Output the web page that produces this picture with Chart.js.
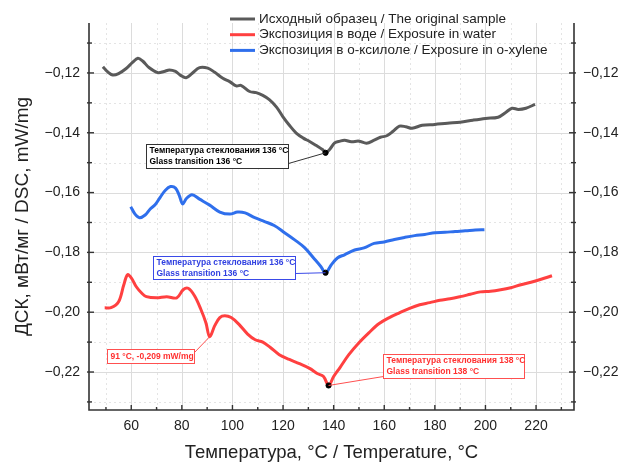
<!DOCTYPE html>
<html>
<head>
<meta charset="utf-8">
<script src="https://cdn.jsdelivr.net/npm/chart.js@4.4.0/dist/chart.umd.min.js"></script>
<style>
html, body { margin: 0; padding: 0; background: #fff; }
#wrap { width: 622px; height: 464px; position: relative; }
</style>
</head>
<body>
<div id="wrap"><canvas id="dsc"></canvas></div>
<script>
// DSC curves
const tempOriginal = [48.8, 50.5, 52.7, 55, 58, 60.5, 62.6, 64.5, 67, 70.5, 73, 75.1, 77.5, 79.5, 81.7, 84, 87, 90.3, 93, 96.2, 98.9, 101.5, 103.5, 106.8, 109.4, 112, 114.7, 117.5, 119.9, 122.5, 125.2, 128, 130.5, 133, 135.7, 136.8, 138.5, 140.4, 142.5, 144.3, 147, 150, 153, 156, 158.5, 161, 163.5, 166, 168.5, 171, 175, 180, 185, 190, 195, 200, 205, 208, 210.5, 213, 216, 219.6];
const dscOriginal = [-0.1179, -0.1195, -0.1207, -0.1202, -0.1185, -0.1165, -0.1151, -0.116, -0.1182, -0.1199, -0.1195, -0.119, -0.1195, -0.1208, -0.1216, -0.1202, -0.1182, -0.1184, -0.1198, -0.1218, -0.1229, -0.1243, -0.1242, -0.1262, -0.1266, -0.1275, -0.129, -0.1315, -0.1346, -0.1375, -0.1401, -0.1418, -0.1429, -0.1442, -0.1457, -0.1467, -0.1455, -0.1434, -0.1428, -0.1425, -0.143, -0.1428, -0.1435, -0.1425, -0.1415, -0.141, -0.1395, -0.1378, -0.138, -0.1385, -0.1375, -0.1372, -0.1368, -0.1365, -0.1358, -0.1352, -0.1348, -0.1332, -0.1318, -0.1322, -0.1318, -0.1305];

const tempWater = [49.5, 52, 55, 57, 58.5, 60, 62, 64, 66, 70, 74, 78, 80.5, 82.5, 85, 87.5, 89.5, 91, 93, 95, 97, 99.5, 102.5, 106, 109, 112, 115, 118.5, 122.5, 126.5, 130.5, 133.5, 136, 138, 140, 142.5, 146, 150, 154, 158, 162, 166, 170, 174, 178, 182, 186, 190, 194, 198, 202, 206, 210, 214, 218, 222, 226.3];
const dscWater = [-0.1985, -0.1985, -0.1965, -0.191, -0.1875, -0.1885, -0.1915, -0.1935, -0.1948, -0.1952, -0.1948, -0.1952, -0.1925, -0.192, -0.1945, -0.199, -0.2035, -0.2082, -0.2045, -0.2018, -0.2012, -0.2018, -0.204, -0.2073, -0.2092, -0.21, -0.2118, -0.2142, -0.2158, -0.2172, -0.2188, -0.2205, -0.2215, -0.2245, -0.2215, -0.2185, -0.2142, -0.2102, -0.2068, -0.2038, -0.2018, -0.2002, -0.1987, -0.1975, -0.1968, -0.196, -0.1955, -0.1948, -0.194, -0.1932, -0.193, -0.1925, -0.1918, -0.1908, -0.19, -0.189, -0.1878];

const tempXylene = [59.8, 61.5, 63.3, 65.5, 67.5, 69.5, 71.5, 73.5, 75.5, 77.5, 79, 80.3, 81.8, 84, 87, 91, 95, 99, 102, 105, 108.8, 112.7, 116.5, 120.6, 124.6, 128.5, 132.4, 135, 136.8, 139.2, 141.6, 144.3, 148.3, 152, 156, 160, 164, 168, 172, 176, 180, 184, 188, 192, 196, 199.6];
const dscXylene = [-0.1647, -0.1672, -0.1684, -0.1675, -0.1655, -0.164, -0.1615, -0.1592, -0.158, -0.1585, -0.161, -0.1638, -0.162, -0.1607, -0.1622, -0.1642, -0.1665, -0.1672, -0.1665, -0.1668, -0.1684, -0.1697, -0.171, -0.1734, -0.1758, -0.1784, -0.1822, -0.1848, -0.1868, -0.184, -0.1818, -0.1808, -0.1792, -0.1785, -0.177, -0.1765, -0.1757, -0.175, -0.1744, -0.174, -0.1734, -0.1733, -0.173, -0.1728, -0.1725, -0.1724];

const seriesNames = [
    'Исходный образец / The original sample',
    'Экспозиция в воде / Exposure in water',
    'Экспозиция в о-ксилоле / Exposure in o-xylene'
];
const seriesColors = ['#5a5a5a', '#ff4040', '#2f6fec'];

// marked points: glass transitions + the water dip
const markTemp = [136.8, 136.8, 138];
const markDsc = [-0.1467, -0.1868, -0.2245];
const dipTemp = 91;
const dipDsc = -0.2082;

const noteOriginal = ['Температура стеклования 136 °C', 'Glass transition 136 °C'];
const noteXylene = ['Температура стеклования 136 °C', 'Glass transition 136 °C'];
const noteWater = ['Температура стеклования 138 °C', 'Glass transition 138 °C'];
const noteDip = ['91 °C, -0,209 mW/mg'];

const xMin = 43.3, xMax = 235;
const yMin = -0.2327, yMax = -0.1033;

function pairs(xs, ys) {
    return xs.map(function (x, i) { return {x: x, y: ys[i]}; });
}

function yLabel(v) {
    const n = Math.round(v * 100);
    if (n % 2) return '';
    return '\u22120,' + String(-n).padStart(2, '0');
}

// annotation boxes: offsets in px from the anchor point
const notes = [
    {x: markTemp[0], y: markDsc[0], color: '#000', border: '#333', lines: noteOriginal, dx: -180, dy: -9, w: 142, h: 24, hook: 'right', hookY: 19},
    {x: markTemp[1], y: markDsc[1], color: '#2f3fe0', border: '#3a4ae8', lines: noteXylene, dx: -173, dy: -17, w: 142, h: 23, hook: 'right', hookY: 17},
    {x: dipTemp, y: dipDsc, color: '#ff3030', border: '#ff5050', lines: noteDip, dx: -103, dy: 12, w: 87, h: 14, hook: 'right', hookY: 3},
    {x: markTemp[2], y: markDsc[2], color: '#ff3030', border: '#ff5050', lines: noteWater, dx: 54, dy: -31, w: 141, h: 24, hook: 'left', hookY: 22}
];

const framePlugin = {
    id: 'frame',
    beforeDatasetsDraw: function (chart) {
        const ctx = chart.ctx;
        const a = chart.chartArea;
        const sx = chart.scales.x, sy = chart.scales.y;
        ctx.save();
        ctx.lineWidth = 1;
        for (let t = 50; t <= 230; t += 10) {
            const px = Math.round(sx.getPixelForValue(t)) + 0.5;
            ctx.strokeStyle = t % 20 === 0 ? '#dcdcdc' : '#e4e4e4';
            ctx.setLineDash(t % 20 === 0 ? [] : [2, 3]);
            ctx.beginPath(); ctx.moveTo(px, a.top); ctx.lineTo(px, a.bottom); ctx.stroke();
        }
        for (let n = -23; n <= -11; n++) {
            const py = Math.round(sy.getPixelForValue(n / 100)) + 0.5;
            ctx.strokeStyle = n % 2 === 0 ? '#dcdcdc' : '#e4e4e4';
            ctx.setLineDash(n % 2 === 0 ? [] : [2, 3]);
            ctx.beginPath(); ctx.moveTo(a.left, py); ctx.lineTo(a.right, py); ctx.stroke();
        }
        ctx.restore();
    },
    afterDatasetsDraw: function (chart) {
        const ctx = chart.ctx;
        const a = chart.chartArea;
        const sx = chart.scales.x, sy = chart.scales.y;
        ctx.save();
        ctx.strokeStyle = '#333';
        ctx.lineWidth = 1.6;
        ctx.beginPath();
        ctx.moveTo(a.left, a.top); ctx.lineTo(a.left, a.bottom);
        ctx.lineTo(a.right, a.bottom); ctx.lineTo(a.right, a.top);
        ctx.stroke();
        ctx.lineWidth = 1.4;
        for (let t = 50; t <= 230; t += 10) {
            const px = sx.getPixelForValue(t);
            const len = t % 20 === 0 ? 5 : 3;
            ctx.beginPath(); ctx.moveTo(px, a.bottom); ctx.lineTo(px, a.bottom - len); ctx.stroke();
        }
        for (let n = -23; n <= -11; n++) {
            const py = sy.getPixelForValue(n / 100);
            const len = n % 2 === 0 ? 5 : 3;
            ctx.beginPath(); ctx.moveTo(a.left - 2, py); ctx.lineTo(a.left + len, py); ctx.stroke();
            ctx.beginPath(); ctx.moveTo(a.right + 2, py); ctx.lineTo(a.right - len, py); ctx.stroke();
        }

        // annotation boxes with leader lines
        notes.forEach(function (n) {
            const ax = sx.getPixelForValue(n.x);
            const ay = sy.getPixelForValue(n.y);
            const bx = Math.round(ax + n.dx) + 0.5;
            const by = Math.round(ay + n.dy) + 0.5;
            ctx.lineWidth = 1;
            ctx.strokeStyle = n.border;
            ctx.beginPath();
            ctx.moveTo(n.hook === 'right' ? bx + n.w : bx, by + n.hookY);
            ctx.lineTo(ax, ay);
            ctx.stroke();
            ctx.fillStyle = '#fff';
            ctx.fillRect(bx, by, n.w, n.h);
            ctx.strokeRect(bx, by, n.w, n.h);
            ctx.fillStyle = n.color;
            ctx.font = 'bold 8.5px "Liberation Sans", Arial, sans-serif';
            ctx.textBaseline = 'middle';
            ctx.textAlign = 'left';
            n.lines.forEach(function (s, i) {
                ctx.fillText(s, bx + 3, by + (n.lines.length === 1 ? n.h / 2 : 6.5 + i * 11));
            });
        });
        ctx.restore();
    },
    afterDraw: function (chart) {
        const ctx = chart.ctx;
        ctx.save();
        ctx.font = '13.5px "Liberation Sans", Arial, sans-serif';
        ctx.textBaseline = 'middle';
        ctx.textAlign = 'left';
        seriesNames.forEach(function (name, i) {
            const y = 19 + i * 15.7;
            ctx.strokeStyle = seriesColors[i];
            ctx.lineWidth = 3;
            ctx.beginPath(); ctx.moveTo(230, y); ctx.lineTo(255, y); ctx.stroke();
            ctx.fillStyle = '#222';
            ctx.fillText(name, 259, y);
        });
        ctx.restore();
    }
};

const lineDataset = function (xs, ys, color) {
    return {
        data: pairs(xs, ys),
        borderColor: color,
        borderWidth: 3,
        pointRadius: 0,
        tension: 0.35,
        fill: false
    };
};

const tickFont = {family: '"Liberation Sans", Arial, sans-serif', size: 14};

new Chart(document.getElementById('dsc'), {
    type: 'line',
    data: {
        datasets: [
            {
                type: 'scatter',
                data: pairs(markTemp, markDsc),
                backgroundColor: '#000',
                borderColor: '#000',
                pointRadius: 2.6,
                order: -1
            },
            lineDataset(tempOriginal, dscOriginal, seriesColors[0]),
            lineDataset(tempWater, dscWater, seriesColors[1]),
            lineDataset(tempXylene, dscXylene, seriesColors[2])
        ]
    },
    options: {
        responsive: true,
        maintainAspectRatio: false,
        animation: false,
        devicePixelRatio: 1,
        layout: {padding: {top: 23, left: 0, right: 0, bottom: 0}},
        plugins: {legend: {display: false}, tooltip: {enabled: false}},
        scales: {
            x: {
                type: 'linear',
                position: 'bottom',
                min: xMin,
                max: xMax,
                grid: {display: false, drawTicks: false},
                border: {display: false},
                ticks: {
                    stepSize: 10,
                    includeBounds: false,
                    autoSkip: false,
                    maxRotation: 0,
                    padding: 8,
                    color: '#222',
                    font: tickFont,
                    callback: function (v) { return v % 20 === 0 ? v : ''; }
                },
                title: {
                    display: true,
                    text: 'Температура, °C / Temperature, °C',
                    color: '#222',
                    font: {family: '"Liberation Sans", Arial, sans-serif', size: 18.5},
                    padding: {top: 0, bottom: 0}
                },
                afterFit: function (s) { s.height = 54; }
            },
            y: {
                type: 'linear',
                position: 'left',
                min: yMin,
                max: yMax,
                grid: {display: false, drawTicks: false},
                border: {display: false},
                ticks: {
                    stepSize: 0.01,
                    includeBounds: false,
                    autoSkip: false,
                    padding: 9,
                    color: '#222',
                    font: tickFont,
                    callback: yLabel
                },
                title: {
                    display: true,
                    text: 'ДСК, мВт/мг / DSC, mW/mg',
                    color: '#222',
                    font: {family: '"Liberation Sans", Arial, sans-serif', size: 19},
                    padding: {top: 11.5, bottom: 0}
                },
                afterFit: function (s) { s.width = 89; }
            },
            y2: {
                type: 'linear',
                position: 'right',
                min: yMin,
                max: yMax,
                grid: {display: false, drawTicks: false},
                border: {display: false},
                ticks: {
                    stepSize: 0.01,
                    includeBounds: false,
                    autoSkip: false,
                    padding: 9,
                    color: '#222',
                    font: tickFont,
                    callback: yLabel
                },
                afterFit: function (s) { s.width = 48; }
            }
        }
    },
    plugins: [framePlugin]
});
</script>
</body>
</html>
